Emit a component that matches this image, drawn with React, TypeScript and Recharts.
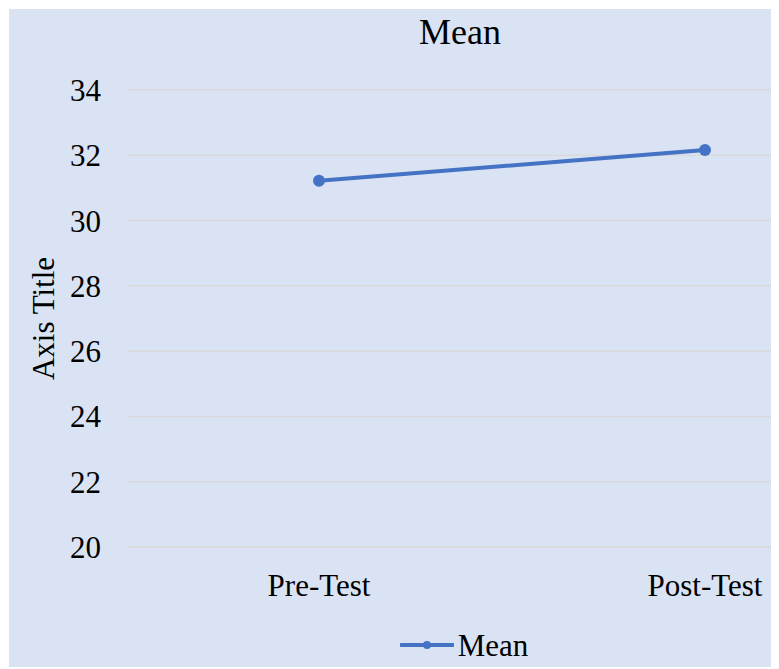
import React from "react";
import { LineChart, Line, XAxis, YAxis, CartesianGrid, Legend } from "recharts";

// Test phases along the x axis
const phases = ["Pre-Test", "Post-Test"];
// Mean score for each phase
const meanScores = [31.22, 32.16];
// Value axis ticks
const scoreTicks = [20, 22, 24, 26, 28, 30, 32, 34];

const chartData = phases.map((phase, i) => ({ phase, mean: meanScores[i] }));

const BLUE = "#4472c4";
const FONT = "'Liberation Serif', 'Times New Roman', serif";

const MeanLegend = () => (
  <div
    style={{
      height: 70,
      boxSizing: "border-box",
      paddingTop: 26,
      display: "flex",
      justifyContent: "center",
      alignItems: "center",
      transform: "translateX(70px)",
      fontFamily: FONT,
    }}
  >
    <svg width={54} height={12}>
      <line x1={1} y1={6} x2={53} y2={6} stroke={BLUE} strokeWidth={4} strokeLinecap="round" />
      <circle cx={27} cy={6} r={4} fill={BLUE} />
    </svg>
    <span style={{ fontSize: 31, lineHeight: 1, marginLeft: 4, color: "#000" }}>Mean</span>
  </div>
);

const AxisTitle = (props: any) => {
  const { viewBox } = props;
  const x = viewBox.x + 34;
  const y = viewBox.y + viewBox.height / 2;
  return (
    <text
      x={x}
      y={y}
      transform={`rotate(-90, ${x}, ${y})`}
      textAnchor="middle"
      dominantBaseline="central"
      fontSize={31}
      fontFamily={FONT}
      fill="#000"
    >
      Axis Title
    </text>
  );
};

export default function App() {
  return (
    <div
      style={{
        position: "relative",
        marginLeft: 1,
        marginTop: 1,
        width: 770,
        height: 658,
        background: "#dae3f3",
        fontFamily: FONT,
      }}
    >
      <div
        style={{
          position: "absolute",
          top: 5,
          left: 0,
          width: 770,
          textAlign: "center",
          transform: "translateX(66px)",
          fontSize: 36,
          lineHeight: "36px",
          color: "#000",
          zIndex: 1,
        }}
      >
        Mean
      </div>
      <LineChart
        width={770}
        height={658}
        data={chartData}
        margin={{ top: 81, right: 0, left: 0, bottom: 0 }}
      >
        <CartesianGrid vertical={false} stroke="#d9d9d9" strokeWidth={1.5} />
        <XAxis
          dataKey="phase"
          padding={{ left: 192, right: 74 }}
          axisLine={false}
          tickLine={false}
          tickSize={0}
          tickMargin={27}
          height={50}
          tick={{ fontSize: 31, fill: "#000", fontFamily: FONT }}
        />
        <YAxis
          domain={[20, 34]}
          ticks={scoreTicks}
          width={118}
          axisLine={false}
          tickLine={false}
          tickSize={0}
          tickMargin={26}
          tick={{ fontSize: 31, fill: "#000", fontFamily: FONT }}
          label={<AxisTitle />}
        />
        <Legend verticalAlign="bottom" content={<MeanLegend />} />
        <Line
          dataKey="mean"
          name="Mean"
          stroke={BLUE}
          strokeWidth={4}
          strokeLinecap="round"
          dot={{ r: 6, fill: BLUE, stroke: BLUE, strokeWidth: 0 }}
          activeDot={false}
          isAnimationActive={false}
        />
      </LineChart>
    </div>
  );
}
